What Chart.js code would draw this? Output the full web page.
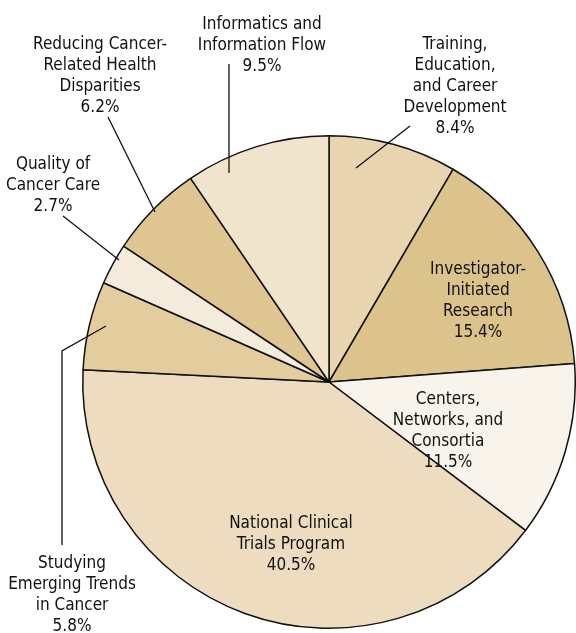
<!DOCTYPE html>
<html>
<head>
<meta charset="utf-8">
<script src="https://cdn.jsdelivr.net/npm/chart.js@4"></script>
<style>
  html, body { margin: 0; padding: 0; background: #fff; }
</style>
</head>
<body>
<canvas id="pieChart" width="576" height="633"></canvas>
<script>
// Slices, clockwise from 12 o'clock
const categories = [
  'Training, Education, and Career Development',
  'Investigator-Initiated Research',
  'Centers, Networks, and Consortia',
  'National Clinical Trials Program',
  'Studying Emerging Trends in Cancer',
  'Quality of Cancer Care',
  'Reducing Cancer-Related Health Disparities',
  'Informatics and Information Flow'
];
const shares = [8.4, 15.4, 11.5, 40.5, 5.8, 2.7, 6.2, 9.5];
const sliceColors = ['#e8d5b0', '#dcc38c', '#f9f4eb', '#eddcbf', '#e3cc9e', '#f4ebdc', '#dec592', '#f1e4cc'];

// label text (lines) per slice, percentage appended from shares
const labelLines = [
  ['Training,', 'Education,', 'and Career', 'Development'],
  ['Investigator-', 'Initiated', 'Research'],
  ['Centers,', 'Networks, and', 'Consortia'],
  ['National Clinical', 'Trials Program'],
  ['Studying', 'Emerging Trends', 'in Cancer'],
  ['Quality of', 'Cancer Care'],
  ['Reducing Cancer-', 'Related Health', 'Disparities'],
  ['Informatics and', 'Information Flow']
];

// label placement (centre x, first baseline y) and leader lines
const labelPlace = [
  { x: 455, y: 49, leader: [[410, 126], [356, 168]] },
  { x: 478, y: 274 },
  { x: 448, y: 404 },
  { x: 291, y: 528 },
  { x: 72, y: 568, leader: [[62, 545], [62, 351], [106, 326]] },
  { x: 53, y: 169, leader: [[63, 216], [119, 260]] },
  { x: 100, y: 49, leader: [[108, 117], [155, 212]] },
  { x: 262, y: 29, leader: [[229, 64], [229, 173]] }
];

const pieLabels = {
  id: 'pieLabels',
  afterDatasetsDraw(chart) {
    const ctx = chart.ctx;
    ctx.save();
    ctx.strokeStyle = '#111';
    ctx.lineWidth = 1.3;
    labelPlace.forEach(p => {
      if (!p.leader) return;
      ctx.beginPath();
      p.leader.forEach((pt, i) => i ? ctx.lineTo(pt[0], pt[1]) : ctx.moveTo(pt[0], pt[1]));
      ctx.stroke();
    });
    ctx.fillStyle = '#111';
    ctx.font = '17px "DejaVu Sans Condensed", "DejaVu Sans", sans-serif';
    ctx.textAlign = 'center';
    ctx.textBaseline = 'alphabetic';
    labelPlace.forEach((p, i) => {
      const lines = labelLines[i].concat([shares[i].toFixed(1) + '%']);
      lines.forEach((t, j) => ctx.fillText(t, p.x, p.y + j * 21));
    });
    ctx.restore();
  }
};

new Chart(document.getElementById('pieChart'), {
  type: 'pie',
  data: {
    labels: categories,
    datasets: [{
      data: shares,
      backgroundColor: sliceColors,
      borderColor: '#111',
      borderWidth: 1.5
    }]
  },
  options: {
    responsive: false,
    animation: false,
    layout: { padding: { left: 82, right: 0, top: 135, bottom: 4 } },
    plugins: {
      legend: { display: false },
      tooltip: { enabled: false }
    }
  },
  plugins: [pieLabels]
});
</script>
</body>
</html>
